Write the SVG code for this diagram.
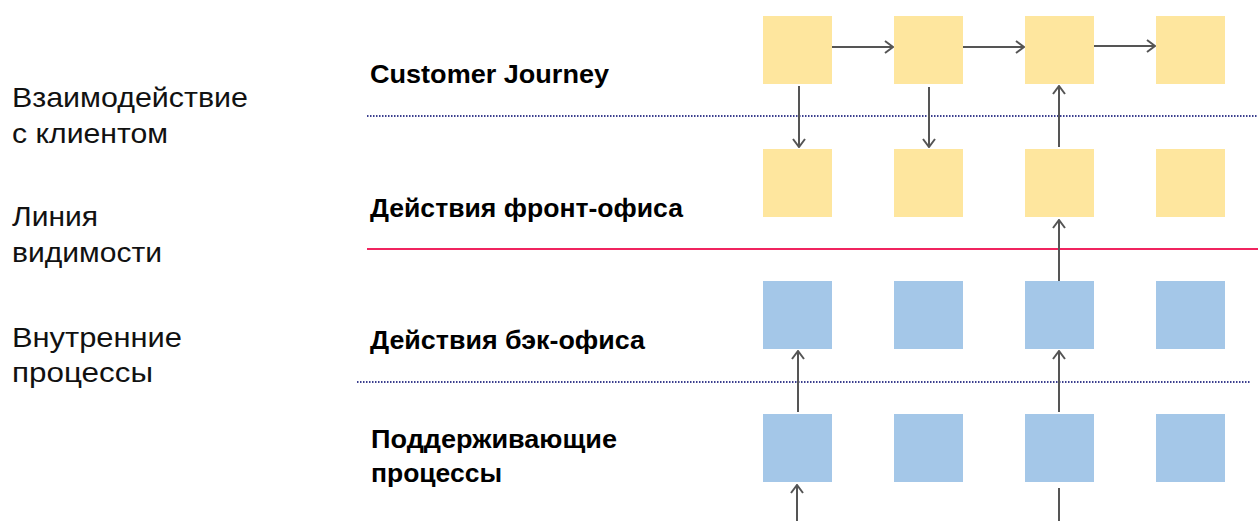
<svg xmlns="http://www.w3.org/2000/svg" width="1258" height="521" viewBox="0 0 1258 521">
<style>
.lbl{font-family:"Liberation Sans",Arial,sans-serif;font-size:28px;fill:#111}
.ttl{font-family:"Liberation Sans",Arial,sans-serif;font-size:25px;font-weight:bold;fill:#000}
.y{fill:#FEE69E}
.b{fill:#A4C7E8}
.dot{stroke:#3B3F8E;stroke-width:2;stroke-dasharray:1.5 1.5;fill:none}
.red{stroke:#F0245F;stroke-width:2;fill:none}
.arr{stroke:#555;stroke-width:2;fill:none}
</style>
<defs>
<marker id="ah" viewBox="0 0 10 14" refX="9" refY="7" markerWidth="10" markerHeight="14" markerUnits="userSpaceOnUse" orient="auto">
<path d="M1,1 L9,7 L1,13" fill="none" stroke="#555" stroke-width="2"/>
</marker>
</defs>
<rect width="1258" height="521" fill="#fff"/>
<g id="labels">
<text class="lbl" x="12" y="107" textLength="236" lengthAdjust="spacingAndGlyphs">Взаимодействие</text>
<text class="lbl" x="12" y="143" textLength="156" lengthAdjust="spacingAndGlyphs">с клиентом</text>
<text class="lbl" x="12" y="226" textLength="86" lengthAdjust="spacingAndGlyphs">Линия</text>
<text class="lbl" x="12" y="262" textLength="150" lengthAdjust="spacingAndGlyphs">видимости</text>
<text class="lbl" x="12" y="347" textLength="170" lengthAdjust="spacingAndGlyphs">Внутренние</text>
<text class="lbl" x="12" y="382" textLength="141" lengthAdjust="spacingAndGlyphs">процессы</text>
<text class="ttl" x="370" y="83" textLength="239" lengthAdjust="spacingAndGlyphs">Customer Journey</text>
<text class="ttl" x="370" y="217" textLength="313" lengthAdjust="spacingAndGlyphs">Действия фронт-офиса</text>
<text class="ttl" x="370" y="349" textLength="275" lengthAdjust="spacingAndGlyphs">Действия бэк-офиса</text>
<text class="ttl" x="371" y="448" textLength="246" lengthAdjust="spacingAndGlyphs">Поддерживающие</text>
<text class="ttl" x="371" y="482" textLength="131" lengthAdjust="spacingAndGlyphs">процессы</text>
</g>
<g id="lines">
<line class="dot" x1="367" y1="116" x2="1258" y2="116"/>
<line class="red" x1="367" y1="249" x2="1258" y2="249"/>
<line class="dot" x1="357" y1="382" x2="1250" y2="382"/>
</g>
<g id="n11"><rect class="y" x="763" y="16" width="69" height="68"/></g>
<g id="n12"><rect class="y" x="894" y="16" width="69" height="68"/></g>
<g id="n13"><rect class="y" x="1025" y="16" width="69" height="68"/></g>
<g id="n14"><rect class="y" x="1156" y="16" width="69" height="68"/></g>
<g id="n21"><rect class="y" x="763" y="149" width="69" height="68"/></g>
<g id="n22"><rect class="y" x="894" y="149" width="69" height="68"/></g>
<g id="n23"><rect class="y" x="1025" y="149" width="69" height="68"/></g>
<g id="n24"><rect class="y" x="1156" y="149" width="69" height="68"/></g>
<g id="n31"><rect class="b" x="763" y="281" width="69" height="68"/></g>
<g id="n32"><rect class="b" x="894" y="281" width="69" height="68"/></g>
<g id="n33"><rect class="b" x="1025" y="281" width="69" height="68"/></g>
<g id="n34"><rect class="b" x="1156" y="281" width="69" height="68"/></g>
<g id="n41"><rect class="b" x="763" y="414" width="69" height="68"/></g>
<g id="n42"><rect class="b" x="894" y="414" width="69" height="68"/></g>
<g id="n43"><rect class="b" x="1025" y="414" width="69" height="68"/></g>
<g id="n44"><rect class="b" x="1156" y="414" width="69" height="68"/></g>
<g id="connectors">
<line class="arr" x1="832" y1="47" x2="893" y2="47" marker-end="url(#ah)"/>
<line class="arr" x1="963" y1="47" x2="1024" y2="47" marker-end="url(#ah)"/>
<line class="arr" x1="1094" y1="46" x2="1155" y2="46" marker-end="url(#ah)"/>
<line class="arr" x1="799" y1="86" x2="799" y2="147" marker-end="url(#ah)"/>
<line class="arr" x1="929" y1="87" x2="929" y2="147" marker-end="url(#ah)"/>
<line class="arr" x1="1059" y1="147" x2="1059" y2="86" marker-end="url(#ah)"/>
<line class="arr" x1="1059" y1="281" x2="1059" y2="220" marker-end="url(#ah)"/>
<line class="arr" x1="798" y1="412" x2="798" y2="351" marker-end="url(#ah)"/>
<line class="arr" x1="1059" y1="412" x2="1059" y2="351" marker-end="url(#ah)"/>
<line class="arr" x1="797" y1="521" x2="797" y2="485" marker-end="url(#ah)"/>
<line class="arr" x1="1059" y1="488" x2="1059" y2="521"/>
</g>
</svg>
